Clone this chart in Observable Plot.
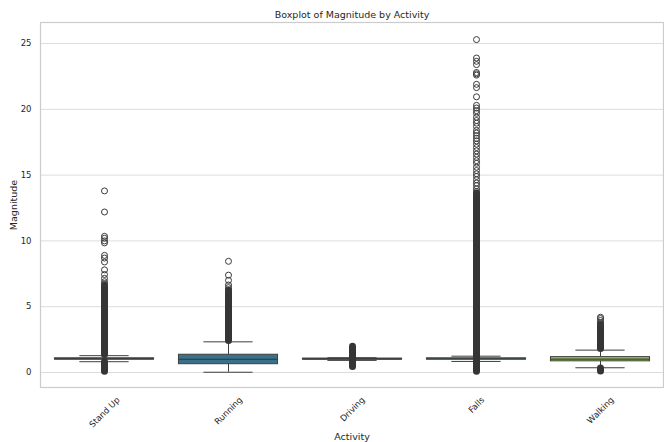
<!DOCTYPE html>
<html><head><meta charset="utf-8">
<script src="https://cdn.jsdelivr.net/npm/d3@7"></script>
<script src="https://cdn.jsdelivr.net/npm/@observablehq/plot@0.6"></script>
<style>body{margin:0;background:#fff}</style>
</head><body><div id="chart"></div>
<script>
// ---- data ----
const categories = ["Stand Up", "Running", "Driving", "Falls", "Walking"];
const boxColors  = ["#4a4b7e", "#37718a", "#2f8383", "#45a778", "#93c94f"];
const q1        = [0.98, 0.63, 0.98, 0.98, 0.85];
const medians   = [1.03, 0.99, 1.02, 1.03, 1.01];
const q3        = [1.08, 1.35, 1.06, 1.08, 1.17];
const whiskerLo = [0.82, 0.02, 0.92, 0.84, 0.36];
const whiskerHi = [1.28, 2.33, 1.12, 1.24, 1.70];
// dense (overlapping) flier runs: [category, low, high]
const denseRuns = [
  ["Stand Up", 1.33, 6.6], ["Stand Up", 0.05, 0.78],
  ["Running", 2.4, 6.2],
  ["Driving", 0.42, 1.95],
  ["Falls", 0.05, 13.6],
  ["Walking", 1.78, 3.6], ["Walking", 0.08, 0.3]
];
// individual fliers
const fliersStandUp = [13.8, 12.2, 10.35, 10.2, 10.0, 9.85, 8.9, 8.7, 8.4, 7.8, 7.45, 7.15, 6.9, 6.75];
const fliersRunning = [8.45, 7.4, 7.0, 6.65, 6.45, 6.3];
const fliersDriving = [];
const fliersFalls = [25.3, 23.9, 23.65, 23.4, 22.8, 22.7, 22.6, 21.9, 21.65, 20.95, 20.3, 20.1, 19.9, 19.7,
  19.4, 19.15, 18.95, 18.7, 18.4, 18.2, 18.0, 17.8, 17.6, 17.35, 17.1, 16.85, 16.6, 16.35, 16.1, 15.9,
  15.6, 15.35, 15.1, 14.9, 14.65, 14.4, 14.2, 13.95, 13.75];
const fliersWalking = [4.2, 4.1, 3.95, 3.8, 3.7];
const yTicks = [0, 5, 10, 15, 20, 25];
const yDomain = [-1.14, 26.6];
const title = "Boxplot of Magnitude by Activity";
const xLabel = "Activity";
const yLabel = "Magnitude";

// ---- tables built from arrays ----
const boxes = categories.map((c, i) => ({activity: c, q1: q1[i], med: medians[i], q3: q3[i], lo: whiskerLo[i], hi: whiskerHi[i], color: boxColors[i]}));
const dense = denseRuns.map(([a, lo, hi]) => ({activity: a, lo, hi}));
const fliers = [
  ...fliersStandUp.map(v => ({activity: "Stand Up", v})),
  ...fliersRunning.map(v => ({activity: "Running", v})),
  ...fliersDriving.map(v => ({activity: "Driving", v})),
  ...fliersFalls.map(v => ({activity: "Falls", v})),
  ...fliersWalking.map(v => ({activity: "Walking", v}))
];

const W = 664, H = 442, mL = 40, mR = 1, mT = 22, mB = 55;
const FONT = "DejaVu Sans";
const TXT = "#262626", LINE = "#3f3f3f";
const band = (W - mL - mR) / categories.length;
const boxInset = band * 0.1, capInset = band * 0.3;
const tickSize = 8.5, labelSize = 9.5;

const ctx = document.createElement("canvas").getContext("2d");
ctx.font = `${tickSize}px "${FONT}"`;
const tickLabelMarks = categories.map(c => {
  const w = ctx.measureText(c).width;
  const half = (w + tickSize) * Math.SQRT1_2 / 2;
  return Plot.text([c], {x: d => d, text: d => d, frameAnchor: "bottom", rotate: -45,
    textAnchor: "middle", lineAnchor: "middle", dy: 8 + half, fontSize: tickSize, fill: TXT});
});

const chart = Plot.plot({
  width: W, height: H, marginLeft: mL, marginRight: mR, marginTop: mT, marginBottom: mB,
  style: {fontFamily: FONT, background: "white", color: TXT},
  x: {domain: categories, padding: 0, axis: null},
  y: {domain: yDomain, label: null, axis: null},
  marks: [
    Plot.gridY(yTicks, {stroke: "#dcdcdc", strokeOpacity: 1, strokeWidth: 1}),
    Plot.frame({stroke: "#cccccc", strokeWidth: 1.2}),
    Plot.axisY(yTicks, {tickSize: 0, tickPadding: 9, fontSize: tickSize, label: null, fill: TXT}),
    Plot.ruleX(boxes, {x: "activity", y1: "q3", y2: "hi", stroke: LINE, strokeWidth: 1}),
    Plot.ruleX(boxes, {x: "activity", y1: "lo", y2: "q1", stroke: LINE, strokeWidth: 1}),
    Plot.barY(boxes, {x: "activity", y1: "q1", y2: "q3", fill: "color", stroke: LINE, strokeWidth: 1, insetLeft: boxInset, insetRight: boxInset}),
    Plot.tickY(boxes, {x: "activity", y: "med", stroke: LINE, strokeWidth: 1.2, insetLeft: boxInset, insetRight: boxInset}),
    Plot.tickY(boxes, {x: "activity", y: "hi", stroke: LINE, strokeWidth: 1, insetLeft: capInset, insetRight: capInset}),
    Plot.tickY(boxes, {x: "activity", y: "lo", stroke: LINE, strokeWidth: 1, insetLeft: capInset, insetRight: capInset}),
    Plot.ruleX(dense, {x: "activity", y1: "lo", y2: "hi", stroke: "#353535", strokeWidth: 7, strokeLinecap: "round"}),
    Plot.dot(fliers, {x: "activity", y: "v", r: 3, stroke: "#3a3a3a", strokeWidth: 1, fill: "none"}),
    ...tickLabelMarks,
    Plot.text([xLabel], {frameAnchor: "bottom", dy: 49, fontSize: labelSize, fill: TXT, lineAnchor: "middle"}),
    Plot.text([yLabel], {frameAnchor: "left", dx: -27, rotate: -90, fontSize: labelSize, fill: TXT, textAnchor: "middle", lineAnchor: "middle"}),
    Plot.text([title], {frameAnchor: "top", dy: -8, fontSize: labelSize, fill: TXT, lineAnchor: "middle"})
  ]
});
document.getElementById("chart").appendChild(chart);
</script>
</body></html>
